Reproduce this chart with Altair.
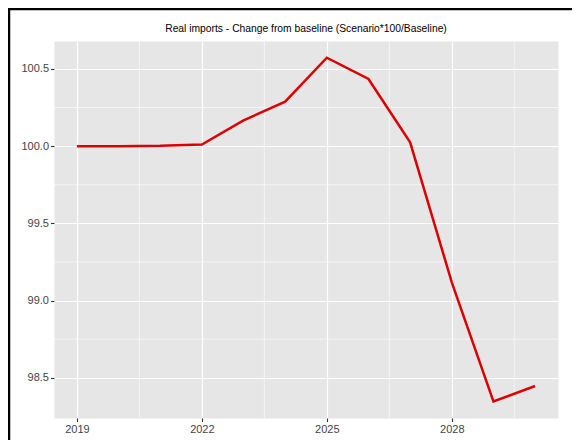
import altair as alt
import pandas as pd

years = [2019, 2020, 2021, 2022, 2023, 2024, 2025, 2026, 2027, 2028, 2029, 2030]
values = [100.0, 100.0, 100.002, 100.01, 100.167, 100.288, 100.573, 100.435, 100.025, 99.118, 98.346, 98.446]

x_ticks = [2019, 2022, 2025, 2028]
y_ticks = [98.5, 99.0, 99.5, 100.0, 100.5]
x_minor = [2020.5, 2023.5, 2026.5, 2029.5]
y_minor = [98.75, 99.25, 99.75, 100.25]

title_text = "Real imports - Change from baseline (Scenario*100/Baseline)"

df = pd.DataFrame({"year": years, "value": values})
dfx = pd.DataFrame({"year": x_minor})
dfy = pd.DataFrame({"value": y_minor})
one = pd.DataFrame({"a": [0]})

FONT = "Liberation Sans"
LABEL = "#444444"
xscale = alt.Scale(domain=[2018.45, 2030.55], nice=False, zero=False)
yscale = alt.Scale(domain=[98.239, 100.681], nice=False, zero=False)

xaxis = alt.Axis(values=x_ticks, format="d", title=None, grid=True, gridColor="white",
                 gridWidth=1.2, domain=False, tickColor="#333333", tickSize=3.5,
                 tickWidth=1.1, labelColor=LABEL, labelFontSize=11, labelFont=FONT,
                 labelPadding=2)
yaxis = alt.Axis(values=y_ticks, format=".1f", title=None, grid=True, gridColor="white",
                 gridWidth=1.2, domain=False, tickColor="#333333", tickSize=3.5,
                 tickWidth=1.1, labelColor=LABEL, labelFontSize=11, labelFont=FONT,
                 labelPadding=2)

minor_x = alt.Chart(dfx).mark_rule(color="white", strokeWidth=0.6).encode(
    x=alt.X("year:Q", scale=xscale, axis=xaxis))
minor_y = alt.Chart(dfy).mark_rule(color="white", strokeWidth=0.6).encode(
    y=alt.Y("value:Q", scale=yscale, axis=yaxis))

line = alt.Chart(df).mark_line(color="#DD0000", strokeWidth=2.5).encode(
    x=alt.X("year:Q", scale=xscale, axis=xaxis),
    y=alt.Y("value:Q", scale=yscale, axis=yaxis),
)

title = alt.Chart(one).mark_text(fontSize=10.3, font=FONT, color="black",
                                 align="center", baseline="middle").encode(
    text=alt.value(title_text), x=alt.value(252), y=alt.value(-12))

frame_top = alt.Chart(one).mark_rule(color="black", strokeWidth=2.5).encode(
    x=alt.value(-46), x2=alt.value(530), y=alt.value(-32))
frame_left = alt.Chart(one).mark_rule(color="black", strokeWidth=2.5).encode(
    x=alt.value(-45), y=alt.value(-33), y2=alt.value(420))

chart = alt.layer(minor_x, minor_y, line, title, frame_top, frame_left).properties(
    width=504, height=377,
    background="white",
    autosize=alt.AutoSizeParams(type="none"),
    padding={"left": 46, "top": 33, "right": 14, "bottom": 22},
).configure_view(fill="#E6E6E6", stroke="transparent")

chart.save("out.html", embed_options={"renderer": "svg", "actions": False})
